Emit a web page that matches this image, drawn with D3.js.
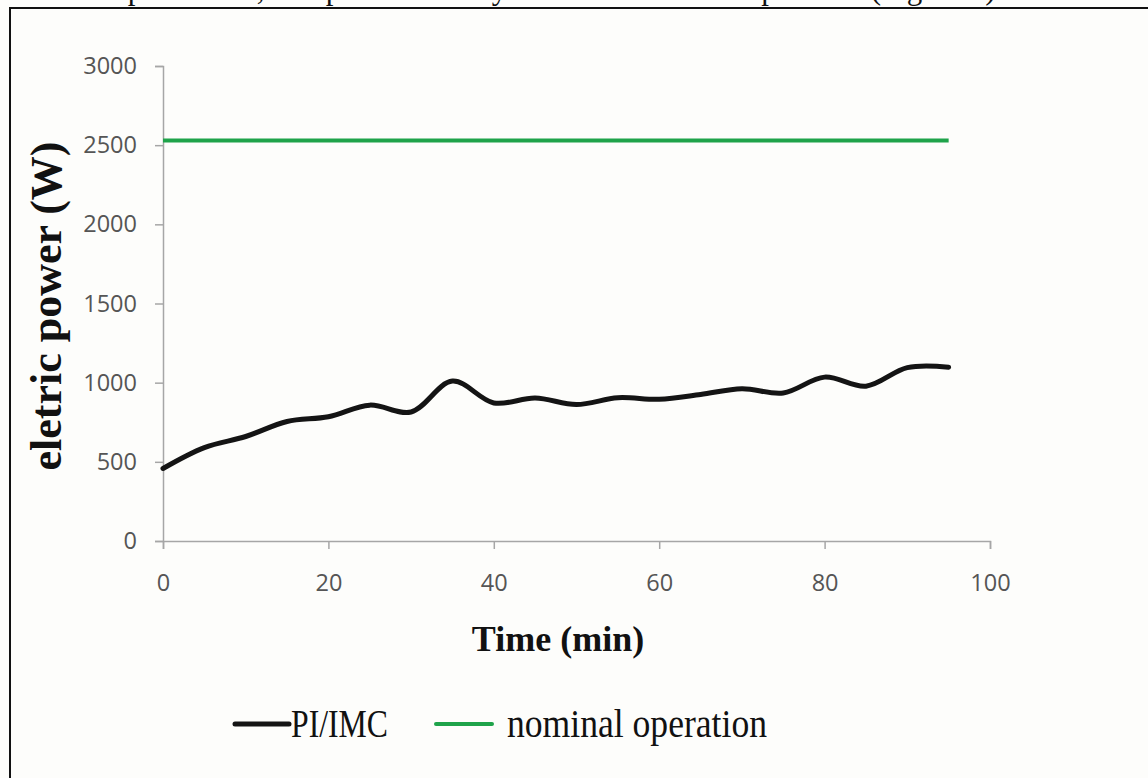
<!DOCTYPE html>
<html>
<head>
<meta charset="utf-8">
<script src="https://cdn.jsdelivr.net/npm/d3@7"></script>
<style>
  body { margin: 0; background: #fdfdfb; }
  svg { display: block; }
</style>
</head>
<body>
<svg id="chart"></svg>
<script>
// data
const timeMin = [0, 5, 10, 15, 20, 25, 30, 35, 40, 45, 50, 55, 60, 65, 70, 75, 80, 85, 90, 95];
const piImc = [458, 590, 660, 755, 785, 858, 815, 1010, 872, 903, 862, 905, 895, 925, 962, 935, 1035, 978, 1095, 1098];
const nominal = [2530, 2530];
const nominalTime = [0, 95];
const xTicks = [0, 20, 40, 60, 80, 100];
const yTicks = [0, 500, 1000, 1500, 2000, 2500, 3000];

const W = 1148, H = 778;
const margin = { top: 66, right: 158, bottom: 237, left: 163 };
const width = W - margin.left - margin.right;
const height = H - margin.top - margin.bottom;
const serif = "Liberation Serif, Times New Roman, serif";

const svg = d3.select("#chart").attr("width", W).attr("height", H);

// cut-off line of body text above the frame
svg.append("text")
  .attr("x", 27).attr("y", -1)
  .attr("font-family", serif)
  .attr("font-size", 31)
  .attr("fill", "#111")
  .text("were implemented, compared to the system with nominal operation (Figure 5).");

// frame
svg.append("rect")
  .attr("x", 10).attr("y", 8)
  .attr("width", W + 10).attr("height", H + 10)
  .attr("fill", "#fdfdfb")
  .attr("stroke", "#111")
  .attr("stroke-width", 2);

const g = svg.append("g")
  .attr("transform", "translate(" + margin.left + "," + margin.top + ")");

const x = d3.scaleLinear().domain([0, 100]).range([0, width]);
const y = d3.scaleLinear().domain([0, 3000]).range([height, 0]);

const axisColor = "#a6a6a6";
const tickFont = "Open Sans, Noto Sans, sans-serif";

const yAxis = g.append("g")
  .call(d3.axisLeft(y).tickValues(yTicks).tickSize(8).tickPadding(18).tickFormat(d3.format("d")));
const xAxis = g.append("g")
  .attr("transform", "translate(0," + height + ")")
  .call(d3.axisBottom(x).tickValues(xTicks).tickSize(8).tickPadding(25).tickFormat(d3.format("d")));

[xAxis, yAxis].forEach(a => {
  a.select(".domain").attr("stroke", axisColor).attr("stroke-width", 1.5);
  a.selectAll(".tick line").attr("stroke", axisColor).attr("stroke-width", 1.5);
  a.selectAll(".tick text")
    .attr("fill", "#555")
    .attr("font-family", tickFont)
    .attr("font-size", 23.5);
});

// nominal operation
const line = d3.line()
  .x(d => x(d[0]))
  .y(d => y(d[1]));

g.append("path")
  .datum(nominalTime.map((t, i) => [t, nominal[i]]))
  .attr("fill", "none")
  .attr("stroke", "#1fa34a")
  .attr("stroke-width", 4)
  .attr("d", line);

// PI/IMC
g.append("path")
  .datum(timeMin.map((t, i) => [t, piImc[i]]))
  .attr("fill", "none")
  .attr("stroke", "#141414")
  .attr("stroke-width", 5)
  .attr("stroke-linecap", "round")
  .attr("d", line.curve(d3.curveCatmullRom.alpha(0.5)));

// axis titles
svg.append("text")
  .attr("x", 558).attr("y", 651)
  .attr("text-anchor", "middle")
  .attr("font-family", serif)
  .attr("font-weight", "bold")
  .attr("font-size", 36)
  .attr("fill", "#111")
  .text("Time (min)");

svg.append("text")
  .attr("transform", "translate(61,306) rotate(-90)")
  .attr("text-anchor", "middle")
  .attr("font-family", serif)
  .attr("font-weight", "bold")
  .attr("font-size", 44)
  .attr("fill", "#111")
  .text("eletric power (W)");

// legend
const legend = svg.append("g").attr("transform", "translate(235,724)");
const items = [
  { name: "PI/IMC", color: "#141414", x0: 0, len: 54, tx: 56, tw: 97, w: 5 },
  { name: "nominal operation", color: "#1fa34a", x0: 201, len: 56, tx: 272, tw: 260, w: 4 }
];
items.forEach(it => {
  legend.append("line")
    .attr("x1", it.x0).attr("x2", it.x0 + it.len)
    .attr("y1", 0).attr("y2", 0)
    .attr("stroke", it.color)
    .attr("stroke-width", it.w)
    .attr("stroke-linecap", "round");
  legend.append("text")
    .attr("x", it.tx).attr("y", 13)
    .attr("font-family", serif)
    .attr("font-size", 39)
    .attr("textLength", it.tw)
    .attr("lengthAdjust", "spacingAndGlyphs")
    .attr("fill", "#111")
    .text(it.name);
});
</script>
</body>
</html>
